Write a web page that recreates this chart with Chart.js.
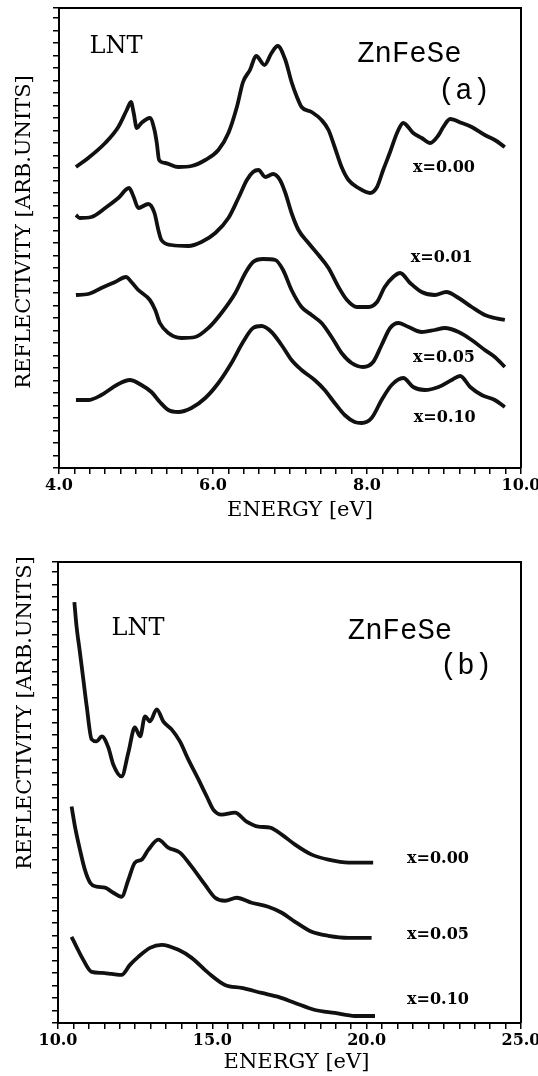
<!DOCTYPE html>
<html><head><meta charset="utf-8">
<script src="https://cdn.jsdelivr.net/npm/chart.js@4.4.0/dist/chart.umd.min.js"></script>
<style>
html,body{margin:0;padding:0;background:#fff;}
body{width:538px;height:1076px;position:relative;overflow:hidden;}
canvas{position:absolute;left:0;}
#ca{top:0;}
#cb{top:530px;}
</style></head><body>
<canvas id="ca" width="538" height="530"></canvas>
<canvas id="cb" width="538" height="546"></canvas>
<script>
// ---------- Panel (a): 4–10 eV ----------
const aTickLabels = ['4.0','6.0','8.0','10.0'];
const aSeriesNames = ['x=0.00','x=0.01','x=0.05','x=0.10'];
const aE000 = [4.22,4.38,4.60,4.77,4.88,4.935,4.97,5.01,5.07,5.18,5.24,5.27,5.30,5.38,5.55,5.72,5.90,6.07,6.20,6.31,6.39,6.48,6.56,6.67,6.76,6.84,6.94,7.02,7.09,7.15,7.28,7.41,7.50,7.58,7.67,7.76,7.89,8.04,8.13,8.21,8.30,8.39,8.47,8.60,8.71,8.82,8.93,8.99,9.08,9.23,9.36,9.53,9.66,9.79];
const aR000 = [30.1,31.0,32.5,34.1,35.8,36.6,35.5,34.0,34.5,35.0,33.8,32.5,30.8,30.5,30.1,30.2,30.8,31.8,33.5,36.1,38.6,39.8,41.2,40.3,41.5,42.2,40.8,38.6,37.1,36.1,35.6,34.8,33.8,32.1,30.1,28.8,28.0,27.5,28.1,29.8,31.6,33.5,34.5,33.5,33.0,32.5,33.3,34.1,34.9,34.5,34.1,33.3,32.8,32.1];
const aE001 = [4.22,4.27,4.42,4.60,4.77,4.91,4.97,5.03,5.16,5.24,5.29,5.33,5.46,5.68,5.85,6.03,6.20,6.33,6.44,6.52,6.59,6.68,6.78,6.87,6.94,7.02,7.11,7.24,7.37,7.50,7.63,7.74,7.87,8.02,8.13,8.23,8.34,8.43,8.56,8.71,8.88,9.03,9.19,9.36,9.53,9.66,9.79];
const aR001 = [25.3,25.0,25.1,26.0,27.0,28.0,27.1,26.0,26.4,25.5,23.8,22.8,22.3,22.2,22.6,23.5,25.0,27.0,28.8,29.6,29.8,29.1,29.4,28.8,27.5,25.5,23.8,22.5,21.3,20.0,18.1,16.8,16.1,16.1,16.6,18.1,19.1,19.5,18.5,17.6,17.3,17.6,17.0,16.1,15.3,15.0,14.8];
const aE005 = [4.22,4.38,4.55,4.73,4.87,4.94,5.03,5.18,5.25,5.31,5.42,5.59,5.77,5.94,6.11,6.29,6.42,6.52,6.65,6.81,6.91,7.02,7.15,7.28,7.41,7.54,7.67,7.80,7.95,8.08,8.19,8.30,8.41,8.54,8.71,8.88,9.01,9.19,9.36,9.53,9.66,9.79];
const aR005 = [17.3,17.4,18.0,18.6,19.1,18.6,17.8,16.8,15.8,14.5,13.5,13.0,13.1,14.0,15.5,17.5,19.5,20.6,20.9,20.8,19.8,17.8,16.1,15.3,14.5,13.1,11.5,10.5,10.1,10.6,12.3,14.0,14.5,14.1,13.6,13.8,14.0,13.6,12.8,11.8,11.1,10.1];
const aE010 = [4.22,4.38,4.55,4.75,4.92,5.07,5.20,5.31,5.42,5.55,5.72,5.90,6.07,6.24,6.39,6.52,6.63,6.76,6.89,7.02,7.15,7.32,7.45,7.58,7.71,7.84,7.93,8.06,8.19,8.32,8.47,8.60,8.75,8.93,9.10,9.21,9.34,9.49,9.66,9.79];
const aR010 = [6.8,6.8,7.3,8.3,8.8,8.3,7.6,6.6,5.8,5.6,6.0,7.0,8.5,10.5,12.6,14.0,14.2,13.6,12.3,10.8,9.8,8.8,7.8,6.5,5.3,4.6,4.5,5.0,6.8,8.3,9.0,8.1,7.8,8.1,8.8,9.2,8.1,7.3,6.8,6.1];

// ---------- Panel (b): 10–25 eV ----------
const bTickLabels = ['10.0','15.0','20.0','25.0'];
const bSeriesNames = ['x=0.00','x=0.05','x=0.10'];
const bE000 = [10.53,10.60,10.71,10.82,10.93,11.09,11.25,11.42,11.63,11.79,12.06,12.28,12.49,12.66,12.82,12.98,13.20,13.41,13.68,13.95,14.22,14.55,14.82,15.03,15.30,15.73,16.11,16.49,16.87,17.25,17.68,18.22,18.76,19.41,20.21];
const bR000 = [42.0,39.6,37.0,34.3,31.6,28.3,28.1,28.6,27.5,25.8,24.6,27.0,29.5,28.6,30.6,30.1,31.3,30.1,29.3,28.1,26.3,24.3,22.6,21.3,20.8,21.0,20.1,19.6,19.5,18.8,17.8,16.8,16.3,16.0,16.0];
const bE005 = [10.44,10.55,10.71,10.87,11.04,11.25,11.52,11.79,12.06,12.28,12.49,12.71,12.93,13.25,13.57,13.95,14.33,14.76,15.09,15.41,15.79,16.27,16.81,17.25,17.68,18.22,18.76,19.41,20.16];
const bR005 = [21.6,19.6,17.3,15.3,14.0,13.6,13.5,13.0,12.6,14.3,16.0,16.3,17.3,18.3,17.5,17.0,15.6,13.8,12.5,12.2,12.5,12.0,11.6,11.0,10.1,9.1,8.7,8.5,8.5];
const bE010 = [10.44,10.60,10.82,11.09,11.42,11.74,12.06,12.33,12.60,12.98,13.36,13.90,14.33,14.87,15.41,15.95,16.60,17.14,17.68,18.33,18.97,19.62,20.27];
const bR010 = [8.6,7.6,6.3,5.1,5.0,4.9,4.8,5.8,6.6,7.5,7.8,7.3,6.5,5.0,3.8,3.5,3.0,2.6,2.0,1.3,1.0,0.7,0.7];

const xTitle = 'ENERGY [eV]';
const yTitle = 'REFLECTIVITY [ARB.UNITS]';

function pairs(e, r){ return e.map((v,i)=>({x:v, y:r[i]})); }
function ds(label, e, r){
  return {label, data:pairs(e,r), borderColor:'#111', borderWidth:3.8, pointRadius:0,
          fill:false, cubicInterpolationMode:'monotone'};
}

const decor = {
  id:'decor',
  afterDraw(chart, args, o){
    const {ctx, chartArea:{left,top,right,bottom}, scales:{x,y}} = chart;
    ctx.save();
    ctx.strokeStyle='#000'; ctx.lineWidth=2;
    ctx.beginPath(); ctx.moveTo(left,top); ctx.lineTo(right,top); ctx.lineTo(right,bottom); ctx.stroke();
    ctx.fillStyle='#000'; ctx.textAlign='center'; ctx.textBaseline='middle';
    for(const n of o.notes){
      ctx.font = n.font;
      ctx.fillText(n.text, x.getPixelForValue(n.x), y.getPixelForValue(n.y));
    }
    ctx.font = '21px "DejaVu Serif"';
    ctx.fillText(xTitle, (left+right)/2 + o.xtDx, bottom + o.xtDy);
    ctx.translate(o.ytX, o.ytY); ctx.rotate(-Math.PI/2);
    ctx.fillText(yTitle, 0, 0);
    ctx.restore();
  }
};

const serifB = '700 16px "DejaVu Serif"';
const monoF = '29px "Liberation Mono"';
const lntF = '24px "DejaVu Serif"';

function makeChart(id, cfg){
  return new Chart(document.getElementById(id), {
    type:'line',
    data:{datasets:cfg.datasets},
    plugins:[decor],
    options:{
      responsive:false, animation:false,
      layout:{padding:{left:0, top:cfg.padTop, right:17, bottom:0}},
      plugins:{legend:{display:false}, tooltip:{enabled:false}, decor:cfg.decor},
      scales:{
        x:{type:'linear', min:cfg.xmin, max:cfg.xmax,
           border:{display:true, color:'#000', width:2},
           grid:{drawOnChartArea:false, drawTicks:true, tickLength:6, color:'#000', lineWidth:1.5},
           ticks:{stepSize:cfg.step, autoSkip:false, maxRotation:0, padding:2, color:'#000',
                  font:{family:'DejaVu Serif', size:16, weight:'bold'},
                  callback:(v)=>{ const k = Math.round((v-cfg.xmin)/cfg.major);
                    return Math.abs((v-cfg.xmin)/cfg.major - k) < 1e-6 ? cfg.labels[k] : ''; }},
           afterFit:(s)=>{ s.height = cfg.xH; s.paddingLeft = 0; s.paddingRight = 0; }},
        y:{type:'linear', min:0, max:46,
           border:{display:true, color:'#000', width:2},
           grid:{drawOnChartArea:false, drawTicks:true, tickLength:6, color:'#000', lineWidth:1.5},
           ticks:{stepSize:1.25, autoSkip:false, callback:()=>'' , font:{size:4}},
           afterFit:(s)=>{ s.width = cfg.yW; s.paddingTop = 0; s.paddingBottom = 0; }}
      }
    }
  });
}

makeChart('ca', {
  datasets:[ds(aSeriesNames[0],aE000,aR000), ds(aSeriesNames[1],aE001,aR001), ds(aSeriesNames[2],aE005,aR005), ds(aSeriesNames[3],aE010,aR010)],
  padTop:8, xH:62, yW:59, xmin:4, xmax:10, step:0.2, major:2, labels:aTickLabels,
  decor:{xtDx:10, xtDy:43, ytX:25, ytY:232, notes:[
    {text:'LNT', x:4.74, y:42.1, font:lntF},
    {text:'ZnFeSe', x:8.55, y:41.4, font:monoF},
    {text:'(a)', x:9.26, y:37.7, font:monoF},
    {text:aSeriesNames[0], x:9.0, y:30.0, font:serifB},
    {text:aSeriesNames[1], x:8.97, y:21.0, font:serifB},
    {text:aSeriesNames[2], x:9.0, y:11.0, font:serifB},
    {text:aSeriesNames[3], x:9.01, y:5.0, font:serifB}
  ]}
});

makeChart('cb', {
  datasets:[ds(bSeriesNames[0],bE000,bR000), ds(bSeriesNames[1],bE005,bR005), ds(bSeriesNames[2],bE010,bR010)],
  padTop:32, xH:53, yW:58, xmin:10, xmax:25, step:0.5, major:5, labels:bTickLabels,
  decor:{xtDx:7, xtDy:40, ytX:26, ytY:183, notes:[
    {text:'LNT', x:12.59, y:39.3, font:lntF},
    {text:'ZnFeSe', x:21.08, y:39.1, font:monoF},
    {text:'(b)', x:23.22, y:35.6, font:monoF},
    {text:bSeriesNames[0], x:22.31, y:16.4, font:serifB},
    {text:bSeriesNames[1], x:22.31, y:8.8, font:serifB},
    {text:bSeriesNames[2], x:22.31, y:2.3, font:serifB}
  ]}
});
</script>
</body></html>
